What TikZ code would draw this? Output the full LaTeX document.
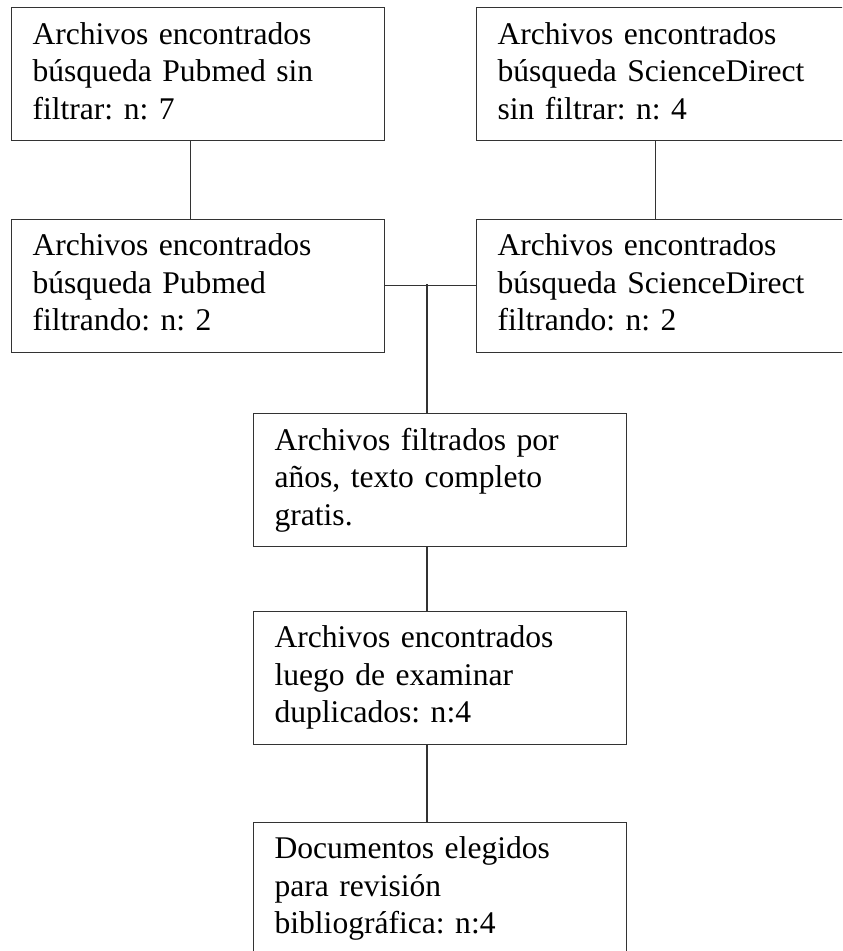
\documentclass[tikz,border=0pt]{standalone}
\usepackage{fontspec}
\setmainfont{Liberation Serif}
\usetikzlibrary{positioning}

\begin{document}
\begin{tikzpicture}[x=0.38pt, y=-0.38pt]
    \tikzstyle{box}=[rectangle, draw=black!80, line width=0.4pt, minimum width=141.7pt, minimum height=50.5pt, text width=125.7pt, inner xsep=8pt, align=left, execute at end node={\rule[-2.5pt]{0pt}{2.5pt}}, font=\fontsize{12}{14.25}\selectfont\frenchspacing]
    \tikzstyle{connect}=[draw=black!80, line width=0.4pt]
    \useasboundingbox (0,0) rectangle (842,951);
    \clip (0,0) rectangle (842,951);
      \node[box, anchor=north west] (pubmed) at (11,7) {Archivos encontrados\\búsqueda Pubmed sin\\filtrar: n: 7};
      \node[box] (sciencedirect) [right=34.6pt of pubmed] {Archivos encontrados\\búsqueda ScienceDirect\\sin filtrar: n: 4};
      \node[box] (pubmedf) [below=29.6pt of pubmed] {Archivos encontrados\\búsqueda Pubmed\\filtrando: n: 2};
      \node[box] (sciencedirectf) [right=34.6pt of pubmedf] {Archivos encontrados\\búsqueda ScienceDirect\\filtrando: n: 2};
      \node[box, anchor=north west] (anios) at (253,413) {Archivos filtrados por\\años, texto completo\\gratis.};
      \node[box] (duplicados) [below=24.3pt of anios] {Archivos encontrados\\luego de examinar\\duplicados: n:4};
      \node[box] (elegidos) [below=29.3pt of duplicados] {Documentos elegidos\\para revisión\\bibliográfica: n:4};
      \coordinate (split) at (427,284.5);
      \path[connect] ([xshift=-2.85pt]pubmed.south) -- ([xshift=-2.85pt]pubmedf.north);
      \path[connect] ([xshift=-2.85pt]sciencedirect.south) -- ([xshift=-2.85pt]sciencedirectf.north);
      \path[connect] (pubmedf.east) -- (sciencedirectf.west);
      \path[connect] (split) -- (split |- anios.north);
      \path[connect] (split |- anios.south) -- (split |- duplicados.north);
      \path[connect] (split |- duplicados.south) -- (split |- elegidos.north);
\end{tikzpicture}
\end{document}
